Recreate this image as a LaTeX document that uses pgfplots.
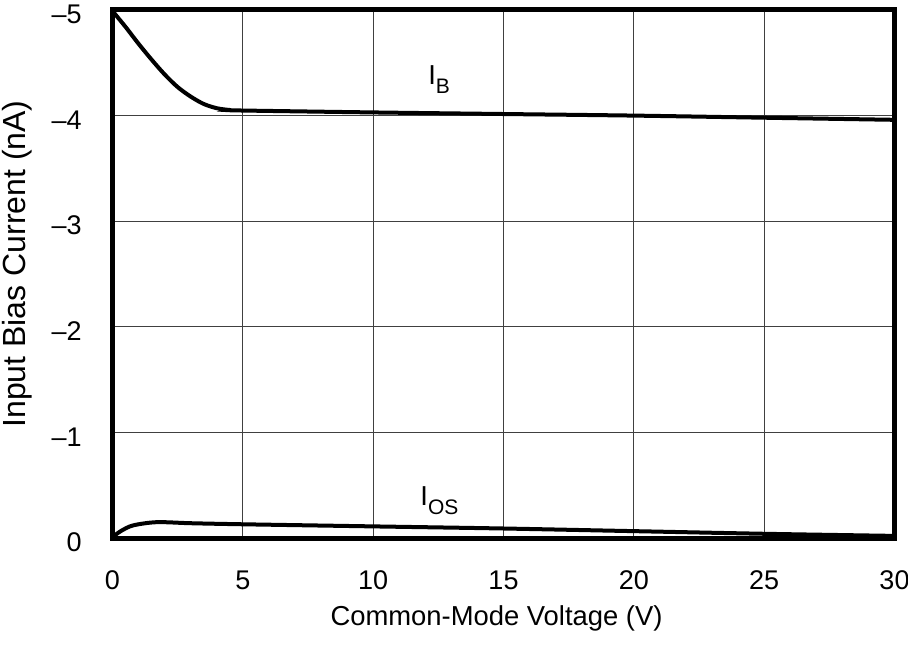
\documentclass[border=0pt]{standalone}
\usepackage{pgfplots}
\pgfplotsset{compat=1.18}
\usepackage{fontspec}
\setmainfont{Liberation Sans}
\begin{document}
\begin{tikzpicture}
\begin{axis}[
  scale only axis,
  width=391pt, height=264pt,
  xmin=0, xmax=30, ymin=-5, ymax=0,
  y dir=reverse,
  xtick={0,5,...,30},
  ytick={-5,-4,-3,-2,-1,0},
  yticklabels={–5,–4,–3,–2,–1,0},
  xticklabels={0,5,10,15,20,25,30},
  major tick length=0pt,
  grid=major,
  grid style={line width=0.5pt, black!75},
  axis line style={line width=2.5pt},
  tick label style={font=\fontsize{13.5}{16}\selectfont},
  xticklabel style={anchor=center, inner sep=0pt, yshift=-21pt},
  yticklabel style={anchor=east, inner sep=0pt, xshift=-15.25pt, yshift=-2.25pt},
  xlabel={Common-Mode Voltage (V)},
  ylabel={Input Bias Current (nA)},
  xlabel style={font=\fontsize{13.7}{16}\selectfont, at={(axis description cs:0.5,0)}, anchor=center, inner sep=0pt, yshift=-40pt, xshift=-3.5pt},
  ylabel style={font=\fontsize{16}{18}\selectfont, at={(axis description cs:0,0.5)}, anchor=center, inner sep=0pt, rotate=0, yshift=47.75pt, xshift=5pt},
  clip=false,
]
\addplot[line width=2pt, smooth, tension=0.5] coordinates {
 (0,-4.99) (0.5,-4.84) (1,-4.68) (1.5,-4.53) (2,-4.39) (2.5,-4.27) (3,-4.18) (3.5,-4.11) (4,-4.07) (4.5,-4.053) (5,-4.048) (10,-4.03) (15,-4.015) (20,-4.0) (25,-3.98) (30,-3.96)};
\addplot[line width=2pt, smooth, tension=0.5] coordinates {
 (0,-0.01) (0.35,-0.07) (0.8,-0.12) (1.7,-0.15) (3,-0.14) (5,-0.13) (10,-0.11) (15,-0.09) (20,-0.065) (25,-0.04) (30,-0.02)};
\node[font=\fontsize{13.7}{16}\selectfont, anchor=base west, inner sep=0pt] at (axis cs:12.1,-4.29) {I\raisebox{-4.25pt}{\fontsize{10.5}{12}\selectfont B}};
\node[font=\fontsize{13.7}{16}\selectfont, anchor=base west, inner sep=0pt] at (axis cs:11.8,-0.31) {I\raisebox{-4.75pt}{\fontsize{10.5}{12}\selectfont OS}};
\coordinate (sw) at (axis description cs:0,0);
\coordinate (ne) at (axis description cs:1,1);
\end{axis}
\pgfresetboundingbox
\useasboundingbox ([shift={(-56.25pt,-54pt)}]sw) rectangle ([shift={(6.75pt,5pt)}]ne);
\end{tikzpicture}
\end{document}
